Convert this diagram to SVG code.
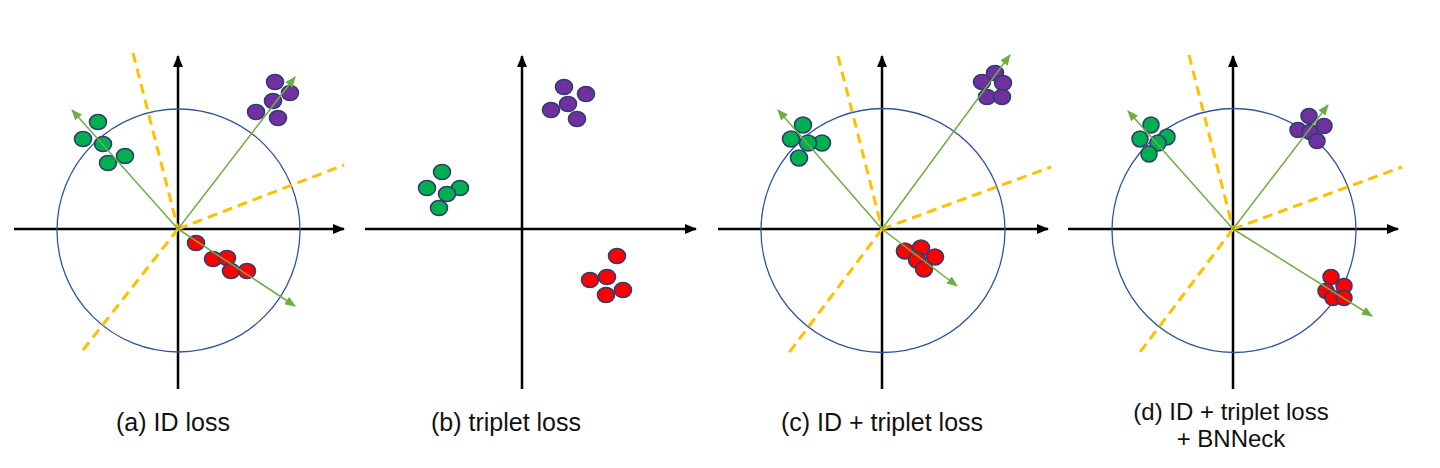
<svg xmlns="http://www.w3.org/2000/svg" width="1440" height="468" viewBox="0 0 1440 468">
<defs>
<marker id="axArrow" markerUnits="userSpaceOnUse" markerWidth="12" markerHeight="10" refX="11" refY="5" orient="auto">
<path d="M0,0 L12,5 L0,10 z" fill="#000"/>
</marker>
<marker id="gArrow" markerUnits="userSpaceOnUse" markerWidth="11" markerHeight="9" refX="10" refY="4.5" orient="auto">
<path d="M0,0 L11,4.5 L0,9 z" fill="#70AD47"/>
</marker>
</defs>
<style>
.axis{stroke:#000;stroke-width:2.5;fill:none}
.circ{stroke:#2F5597;stroke-width:1.3;fill:none}
.dash{stroke:#FFC000;stroke-width:3;stroke-dasharray:10 6;fill:none}
.vec{stroke:#70AD47;stroke-width:1.5;fill:none}
.g{fill:#00B050;stroke:#2F3E6E;stroke-width:1.6}
.p{fill:#7030A0;stroke:#2F3E6E;stroke-width:1.6}
.r{fill:#FF0000;stroke:#2F3E6E;stroke-width:1.6}
.lbl{font-family:"Liberation Sans",Arial,sans-serif;font-size:25px;fill:#111;text-anchor:middle}
.lbl2{font-family:"Liberation Sans",Arial,sans-serif;font-size:24px;fill:#111;text-anchor:middle}
</style>
<rect width="1440" height="468" fill="#fff"/>

<g id="panel-a">
<line class="axis" x1="178" y1="389" x2="178" y2="56" marker-end="url(#axArrow)"/>
<line class="axis" x1="14" y1="229" x2="344" y2="229" marker-end="url(#axArrow)"/>
<circle class="circ" cx="178.5" cy="230.5" r="121.5"/>
<g id="a-green">
<ellipse class="g" cx="98" cy="122" rx="8.5" ry="7.5"/>
<ellipse class="g" cx="83" cy="139" rx="8.5" ry="7.5"/>
<ellipse class="g" cx="103" cy="144" rx="8.5" ry="7.5"/>
<ellipse class="g" cx="125" cy="156" rx="8.5" ry="7.5"/>
<ellipse class="g" cx="108" cy="163" rx="8.5" ry="7.5"/>
</g>
<g id="a-purple">
<ellipse class="p" cx="275" cy="82" rx="8.5" ry="7.5"/>
<ellipse class="p" cx="290" cy="93" rx="8.5" ry="7.5"/>
<ellipse class="p" cx="273" cy="101" rx="8.5" ry="7.5"/>
<ellipse class="p" cx="256" cy="112" rx="8.5" ry="7.5"/>
<ellipse class="p" cx="278" cy="118" rx="8.5" ry="7.5"/>
</g>
<g id="a-red">
<ellipse class="r" cx="196" cy="243" rx="8.5" ry="7.5"/>
<ellipse class="r" cx="213" cy="259" rx="8.5" ry="7.5"/>
<ellipse class="r" cx="227" cy="258" rx="8.5" ry="7.5"/>
<ellipse class="r" cx="231" cy="271" rx="8.5" ry="7.5"/>
<ellipse class="r" cx="247" cy="271" rx="8.5" ry="7.5"/>
</g>
<text class="lbl" x="173" y="431">(a) ID loss</text>
</g>

<g id="panel-b">
<line class="axis" x1="522" y1="389" x2="522" y2="56" marker-end="url(#axArrow)"/>
<line class="axis" x1="365" y1="229" x2="696" y2="229" marker-end="url(#axArrow)"/>
<g id="b-purple">
<ellipse class="p" cx="564" cy="87" rx="8.5" ry="7.5"/>
<ellipse class="p" cx="586" cy="94" rx="8.5" ry="7.5"/>
<ellipse class="p" cx="568" cy="104" rx="8.5" ry="7.5"/>
<ellipse class="p" cx="551" cy="110" rx="8.5" ry="7.5"/>
<ellipse class="p" cx="577" cy="119" rx="8.5" ry="7.5"/>
</g>
<g id="b-green">
<ellipse class="g" cx="442" cy="172" rx="8.5" ry="7.5"/>
<ellipse class="g" cx="460" cy="188" rx="8.5" ry="7.5"/>
<ellipse class="g" cx="427" cy="188" rx="8.5" ry="7.5"/>
<ellipse class="g" cx="447" cy="194" rx="8.5" ry="7.5"/>
<ellipse class="g" cx="439" cy="208" rx="8.5" ry="7.5"/>
</g>
<g id="b-red">
<ellipse class="r" cx="617" cy="256" rx="8.5" ry="7.5"/>
<ellipse class="r" cx="590" cy="280" rx="8.5" ry="7.5"/>
<ellipse class="r" cx="607" cy="277" rx="8.5" ry="7.5"/>
<ellipse class="r" cx="623" cy="290" rx="8.5" ry="7.5"/>
<ellipse class="r" cx="606" cy="295" rx="8.5" ry="7.5"/>
</g>
<text class="lbl" x="506" y="431">(b) triplet loss</text>
</g>

<g id="panel-c">
<line class="axis" x1="882" y1="389" x2="882" y2="56" marker-end="url(#axArrow)"/>
<line class="axis" x1="718" y1="229" x2="1048" y2="229" marker-end="url(#axArrow)"/>
<circle class="circ" cx="883" cy="230.5" r="122"/>
<g id="c-green">
<ellipse class="g" cx="803" cy="125" rx="8.5" ry="8"/>
<ellipse class="g" cx="791" cy="139" rx="8.5" ry="8"/>
<ellipse class="g" cx="822" cy="143" rx="8.5" ry="8"/>
<ellipse class="g" cx="808" cy="143" rx="8.5" ry="8"/>
<ellipse class="g" cx="799" cy="158" rx="8.5" ry="8"/>
</g>
<g id="c-purple">
<ellipse class="p" cx="995" cy="73" rx="8.5" ry="7.5"/>
<ellipse class="p" cx="982" cy="82" rx="8.5" ry="7.5"/>
<ellipse class="p" cx="1003" cy="83" rx="8.5" ry="7.5"/>
<ellipse class="p" cx="987" cy="97" rx="8.5" ry="7.5"/>
<ellipse class="p" cx="1002" cy="97" rx="8.5" ry="7.5"/>
</g>
<g id="c-red">
<ellipse class="r" cx="921" cy="248" rx="8.5" ry="8"/>
<ellipse class="r" cx="905" cy="251" rx="8.5" ry="8"/>
<ellipse class="r" cx="935" cy="257" rx="8.5" ry="8"/>
<ellipse class="r" cx="917" cy="260" rx="8.5" ry="8"/>
<ellipse class="r" cx="924" cy="269" rx="8.5" ry="8"/>
</g>
<text class="lbl" x="882" y="431">(c) ID + triplet loss</text>
</g>

<g id="panel-d">
<line class="axis" x1="1233" y1="389" x2="1233" y2="56" marker-end="url(#axArrow)"/>
<line class="axis" x1="1068" y1="229" x2="1398" y2="229" marker-end="url(#axArrow)"/>
<circle class="circ" cx="1234" cy="230.5" r="122"/>
<g id="d-green">
<ellipse class="g" cx="1151" cy="125" rx="8" ry="8"/>
<ellipse class="g" cx="1167" cy="137" rx="8" ry="8"/>
<ellipse class="g" cx="1140" cy="139" rx="8" ry="8"/>
<ellipse class="g" cx="1158" cy="143" rx="8" ry="8"/>
<ellipse class="g" cx="1149" cy="154" rx="8" ry="8"/>
</g>
<g id="d-purple">
<ellipse class="p" cx="1309" cy="116" rx="8" ry="7.5"/>
<ellipse class="p" cx="1324" cy="126" rx="8" ry="7.5"/>
<ellipse class="p" cx="1298" cy="130" rx="8" ry="7.5"/>
<ellipse class="p" cx="1310" cy="132" rx="8" ry="7.5"/>
<ellipse class="p" cx="1317" cy="141" rx="8" ry="7.5"/>
</g>
<g id="d-red">
<ellipse class="r" cx="1331" cy="277" rx="8" ry="7.5"/>
<ellipse class="r" cx="1344" cy="286" rx="8" ry="7.5"/>
<ellipse class="r" cx="1326" cy="291" rx="8" ry="7.5"/>
<ellipse class="r" cx="1333" cy="298" rx="8" ry="7.5"/>
<ellipse class="r" cx="1344" cy="298" rx="8" ry="7.5"/>
</g>
<text class="lbl2" x="1231" y="420">(d) ID + triplet loss</text>
<text class="lbl2" x="1231" y="447">+ BNNeck</text>
</g>

<g id="connectors">
<line class="dash" x1="133" y1="53" x2="178" y2="229"/>
<line class="dash" x1="178" y1="229" x2="83" y2="350"/>
<line class="dash" x1="178" y1="229" x2="344" y2="165"/>
<line class="vec" x1="178" y1="229" x2="72" y2="110" marker-end="url(#gArrow)"/>
<line class="vec" x1="178" y1="229" x2="295" y2="77" marker-end="url(#gArrow)"/>
<line class="vec" x1="178" y1="229" x2="295" y2="306" marker-end="url(#gArrow)"/>

<line class="dash" x1="838" y1="56" x2="882" y2="229"/>
<line class="dash" x1="882" y1="229" x2="788" y2="354"/>
<line class="dash" x1="882" y1="229" x2="1051" y2="167"/>
<line class="vec" x1="882" y1="229" x2="778" y2="110" marker-end="url(#gArrow)"/>
<line class="vec" x1="882" y1="229" x2="1010" y2="55" marker-end="url(#gArrow)"/>
<line class="vec" x1="882" y1="229" x2="957" y2="286" marker-end="url(#gArrow)"/>

<line class="dash" x1="1189" y1="55" x2="1233" y2="229"/>
<line class="dash" x1="1233" y1="229" x2="1140" y2="352"/>
<line class="dash" x1="1233" y1="229" x2="1402" y2="167"/>
<line class="vec" x1="1233" y1="229" x2="1128" y2="111" marker-end="url(#gArrow)"/>
<line class="vec" x1="1233" y1="229" x2="1328" y2="105" marker-end="url(#gArrow)"/>
<line class="vec" x1="1233" y1="229" x2="1372" y2="316" marker-end="url(#gArrow)"/>
</g>
</svg>
